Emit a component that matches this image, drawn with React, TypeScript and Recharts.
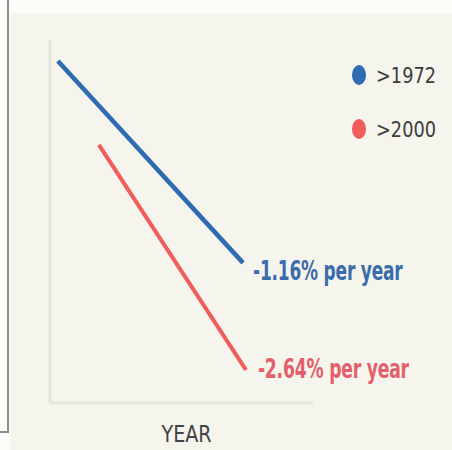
import { LineChart, Line, XAxis, YAxis, Legend, Label } from 'recharts';

// x is a relative time position, y the relative trend level
const years1972 = [3, 73.4];
const values1972 = [94.2, 38.6];
const years2000 = [18.6, 74.5];
const values2000 = [71.1, 9.1];

const seriesNames = ['>1972', '>2000'];
const rateLabels = ['-1.16% per year', '-2.64% per year'];
const seriesColors = ['#2e6bb3', '#f05d5b'];
const labelColors = ['#3a6cab', '#e3606a'];

const data1972 = years1972.map((x, i) => ({ x, y: values1972[i] }));
const data2000 = years2000.map((x, i) => ({ x, y: values2000[i] }));

const narrow = "'Liberation Sans Narrow', 'DejaVu Sans Condensed', 'Liberation Sans', Arial, sans-serif";

// rate text only at the last point of each line (tall, narrow look via vertical stretch)
const rateLabel = (text: string, color: string, last: number, dx: number, dy: number, size: number) => (props: any) => {
  const { x, y, index } = props;
  if (index !== last) return null;
  return (
    <text
      transform={`translate(${x + dx}, ${y + dy}) scale(1, 1.4)`}
      fill={color}
      fontFamily={narrow}
      fontWeight='bold'
      fontSize={size}
      letterSpacing={-0.2}
    >
      {text}
    </text>
  );
};

const renderLegend = (props: any) => {
  const { payload } = props;
  return (
    <div>
      {(payload || []).map((entry: any) => (
        <svg key={entry.value} width={100} height={54} style={{ display: 'block' }}>
          <ellipse cx={9} cy={24} rx={7} ry={10} fill={entry.color} />
          <text
            x={26}
            y={32}
            fontFamily={narrow}
            fontSize={21}
            fill='#3c3c3c'
            textLength={60}
            lengthAdjust='spacingAndGlyphs'
          >
            {entry.value}
          </text>
        </svg>
      ))}
    </div>
  );
};

const YearLabel = (props: any) => {
  const { viewBox } = props;
  const cx = viewBox.x + viewBox.width / 2 + 5;
  return (
    <text
      x={cx - 25}
      y={viewBox.y + 39}
      fontFamily={narrow}
      fontSize={23}
      fill='#444'
      textLength={50}
      lengthAdjust='spacingAndGlyphs'
    >
      YEAR
    </text>
  );
};

const App = () => {
  return (
    <div
      style={{
        position: 'absolute',
        left: 0,
        top: 0,
        width: 452,
        height: 450,
        background: '#fbfbf8',
        overflow: 'hidden',
      }}
    >
      {/* beige panel */}
      <div
        style={{
          position: 'absolute',
          left: 10,
          top: 13,
          right: 0,
          bottom: 0,
          background: '#f5f4ed',
        }}
      />
      {/* frame line on the left */}
      <div
        style={{
          position: 'absolute',
          left: 7,
          top: 0,
          width: 2,
          height: 433,
          background: '#8c8c8c',
        }}
      />
      <div
        style={{
          position: 'absolute',
          left: 0,
          top: 431,
          width: 9,
          height: 2,
          background: '#8c8c8c',
        }}
      />

      <div style={{ position: 'absolute', left: 0, top: 0 }}>
        <LineChart
          width={452}
          height={450}
          margin={{ top: 40, right: 39, bottom: 7, left: 49 }}
        >
          <XAxis
            type='number'
            dataKey='x'
            domain={[0, 100]}
            height={40}
            tick={false}
            tickLine={false}
            axisLine={{ stroke: '#e6e5de', strokeWidth: 3 }}
          >
            <Label content={<YearLabel />} />
          </XAxis>
          <YAxis
            type='number'
            domain={[0, 100]}
            width={1}
            tick={false}
            tickLine={false}
            axisLine={{ stroke: '#e6e5de', strokeWidth: 3 }}
          />
          <Legend
            layout='vertical'
            verticalAlign='top'
            align='right'
            content={renderLegend}
            wrapperStyle={{ top: 51, left: 350, width: 100 }}
          />
          <Line
            data={data1972}
            dataKey='y'
            name={seriesNames[0]}
            stroke={seriesColors[0]}
            strokeWidth={4.5}
            dot={false}
            isAnimationActive={false}
            label={rateLabel(rateLabels[0], labelColors[0], data1972.length - 1, 10, 17, 18.9)}
          />
          <Line
            data={data2000}
            dataKey='y'
            name={seriesNames[1]}
            stroke={seriesColors[1]}
            strokeWidth={4}
            dot={false}
            isAnimationActive={false}
            label={rateLabel(rateLabels[1], labelColors[1], data2000.length - 1, 12, 8, 19.1)}
          />
        </LineChart>
      </div>
    </div>
  );
};

export default App;
